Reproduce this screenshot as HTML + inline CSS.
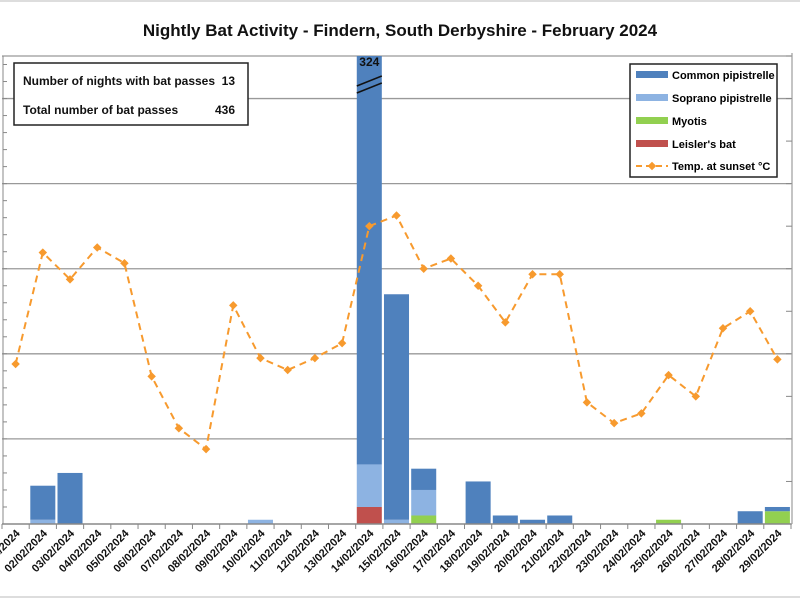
<!DOCTYPE html>
<html><head><meta charset="utf-8"><style>
body{margin:0;background:#fff;}
svg{display:block;font-family:"Liberation Sans",Calibri,sans-serif;}
</style></head><body>
<svg id="chart" width="800" height="600">
<line x1="0" y1="1" x2="800" y2="1" stroke="#bbb"/>
<line x1="0" y1="597" x2="800" y2="597" stroke="#bbb"/>
<text x="400" y="36" text-anchor="middle" font-size="17" font-weight="bold" fill="#111">Nightly Bat Activity - Findern, South Derbyshire - February 2024</text>
<g id="grid"></g><g id="bars"></g><g id="line"></g><g id="axes"></g>
<g>
<rect x="14" y="63" width="234" height="62" fill="#fff" stroke="#222" stroke-width="1.5"/>
<text x="23" y="85" font-size="12" font-weight="bold" fill="#111">Number of nights with bat passes</text>
<text x="235" y="85" font-size="12" font-weight="bold" fill="#111" text-anchor="end">13</text>
<text x="23" y="114" font-size="12" font-weight="bold" fill="#111">Total number of bat passes</text>
<text x="235" y="114" font-size="12" font-weight="bold" fill="#111" text-anchor="end">436</text>
</g>
<g>
<rect x="630" y="64" width="147" height="113" fill="#fff" stroke="#222" stroke-width="1.5"/>
<rect x="636" y="71" width="32" height="7" fill="#4f81bd"/><text x="672" y="79" font-size="11" font-weight="bold">Common pipistrelle</text>
<rect x="636" y="94" width="32" height="7" fill="#8db3e2"/><text x="672" y="102" font-size="11" font-weight="bold">Soprano pipistrelle</text>
<rect x="636" y="117" width="32" height="7" fill="#92d050"/><text x="672" y="125" font-size="11" font-weight="bold">Myotis</text>
<rect x="636" y="140" width="32" height="7" fill="#c0504d"/><text x="672" y="148" font-size="11" font-weight="bold">Leisler's bat</text>
<line x1="636" y1="166" x2="668" y2="166" stroke="#f79a2e" stroke-width="2" stroke-dasharray="6,4"/>
<rect x="649" y="163" width="6" height="6" fill="#f79a2e" transform="rotate(45 652 166)"/>
<text x="672" y="170" font-size="11" font-weight="bold">Temp. at sunset °C</text>
</g>
</svg>
<script>
const dates = ["01/02/2024","02/02/2024","03/02/2024","04/02/2024","05/02/2024","06/02/2024","07/02/2024","08/02/2024","09/02/2024","10/02/2024","11/02/2024","12/02/2024","13/02/2024","14/02/2024","15/02/2024","16/02/2024","17/02/2024","18/02/2024","19/02/2024","20/02/2024","21/02/2024","22/02/2024","23/02/2024","24/02/2024","25/02/2024","26/02/2024","27/02/2024","28/02/2024","29/02/2024"];
const leisler = [0,0,0,0,0,0,0,0,0,0,0,0,0,4,0,0,0,0,0,0,0,0,0,0,0,0,0,0,0];
const myotis = [0,0,0,0,0,0,0,0,0,0,0,0,0,0,0,2,0,0,0,0,0,0,0,0,1,0,0,0,3];
const soprano = [0,1,0,0,0,0,0,0,0,1,0,0,0,10,1,6,0,0,0,0,0,0,0,0,0,0,0,0,0];
const common = [0,8,12,0,0,0,0,0,0,0,0,0,0,310,53,5,0,10,2,1,2,0,0,0,0,0,0,3,1];
const temps = [3.76,6.38,5.75,6.5,6.13,3.47,2.25,1.76,5.14,3.9,3.62,3.9,4.25,7.0,7.25,6.0,6.24,5.6,4.74,5.87,5.87,2.86,2.37,2.6,3.5,3.0,4.6,5.0,3.87];
const NS="http://www.w3.org/2000/svg";
const L=2,R=791,T=56,B=524,yMax=110,tMax=11;
const n=dates.length,bw=(R-L)/n;
const xC=i=>L+bw*(i+0.5);
const yB=v=>B-v*(B-T)/yMax;
const yT=v=>B-v*(B-T)/tMax;
function mk(tag,attrs,parent){const e=document.createElementNS(NS,tag);for(const k in attrs)e.setAttribute(k,attrs[k]);document.getElementById(parent).appendChild(e);return e;}
for(let v=20;v<=100;v+=20){const g=mk('line',{x1:L,x2:R,y1:yB(v),y2:yB(v),stroke:'#999','stroke-width':1.3},'grid');

}
const tl=mk('line',{x1:L,x2:R,y1:T,y2:T,stroke:'#999','stroke-width':1.3},'grid');


const series=[[leisler,'#c0504d','leisler'],[myotis,'#92d050','myotis'],[soprano,'#8db3e2','soprano'],[common,'#4f81bd','common']];
for(let i=0;i<n;i++){let base=0;for(const [arr,col,nm] of series){const v=arr[i];if(v>0){const y0=yB(Math.min(base,yMax)),y1=yB(Math.min(base+v,yMax));
const r=mk('rect',{x:xC(i)-bw*0.46,y:y1,width:bw*0.92,height:y0-y1,fill:col},'bars');

}base+=v;}
const tot=leisler[i]+myotis[i]+soprano[i]+common[i];
if(tot>yMax){const t=mk('text',{x:xC(i),y:T+10,'text-anchor':'middle','font-size':12,'font-weight':'bold',fill:'#111'},'bars');t.textContent=tot;


for(const o of [0,7]){const b=mk('line',{x1:xC(i)-bw*0.46,y1:T+30+o,x2:xC(i)+bw*0.46,y2:T+20+o,stroke:'#111','stroke-width':1.5},'bars');

}}}
let d='';temps.forEach((t,i)=>{d+=(i?'L':'M')+xC(i)+','+yT(t);});
const p=mk('path',{d:d,fill:'none',stroke:'#f79a2e','stroke-width':2,'stroke-dasharray':'7,5'},'line');


temps.forEach((t,i)=>{const m=mk('rect',{x:xC(i)-3,y:yT(t)-3,width:6,height:6,fill:'#f79a2e',transform:`rotate(45 ${xC(i)} ${yT(t)})`},'line');

});
const ax=mk('line',{x1:L,x2:R,y1:B,y2:B,stroke:'#888','stroke-width':1.5},'axes');


const la=mk('line',{x1:3,x2:3,y1:T,y2:B,stroke:'#888','stroke-width':1},'axes');


const ra=mk('line',{x1:792,x2:792,y1:T-3,y2:B,stroke:'#888','stroke-width':1},'axes');


for(let v=0;v<=yMax;v+=4){const tk=mk('line',{x1:3,x2:7,y1:yB(v),y2:yB(v),stroke:'#888'},'axes');

}
for(let v=0;v<=tMax;v++){const tk=mk('line',{x1:786,x2:792,y1:yT(v),y2:yT(v),stroke:'#888'},'axes');

}
for(let i=0;i<=n;i++){const tk=mk('line',{x1:L+bw*i,x2:L+bw*i,y1:B,y2:B+5,stroke:'#888'},'axes');

}
dates.forEach((s,i)=>{const x=xC(i)+5,y=B+10;const t=mk('text',{x:x,y:y,'text-anchor':'end','font-size':11,'font-weight':'bold',fill:'#111',transform:`rotate(-45 ${x} ${y})`},'axes');t.textContent=s;

});
</script>
</body></html>
